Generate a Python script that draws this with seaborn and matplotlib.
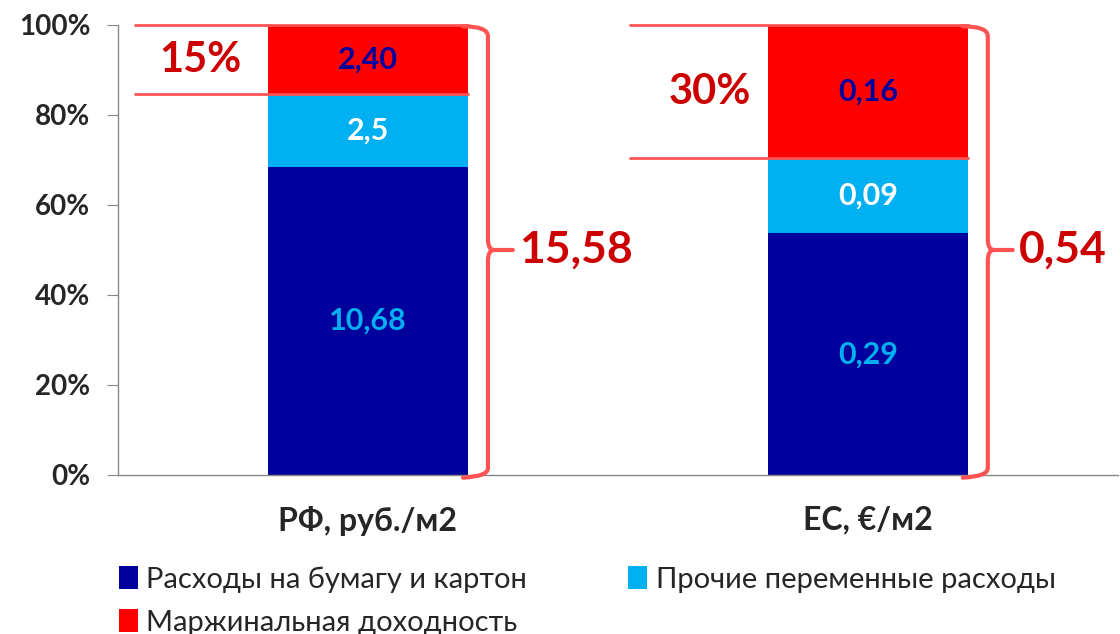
import numpy as np
import pandas as pd
import seaborn as sns
import matplotlib.pyplot as plt
from matplotlib.path import Path
from matplotlib.patches import PathPatch

# data
categories = ["РФ, руб./м2", "ЕС, €/м2"]
series = ["Расходы на бумагу и картон", "Прочие переменные расходы", "Маржинальная доходность"]
paper = [10.68, 0.29]
other = [2.5, 0.09]
margin = [2.40, 0.16]
paper_lbl = ["10,68", "0,29"]
other_lbl = ["2,5", "0,09"]
margin_lbl = ["2,40", "0,16"]
total_lbl = ["15,58", "0,54"]

colors = ["#00009C", "#00B0F0", "#FF0000"]
txt_colors = ["#00B0F0", "#FFFFFF", "#00009C"]
red_txt = "#CC0000"
brace_c = "#FF5353"

df = pd.DataFrame({"cat": categories, "paper": paper, "other": other, "margin": margin})
df["total"] = df[["paper", "other", "margin"]].sum(axis=1)
df["s1"] = df["paper"] / df["total"]
df["s2"] = (df["paper"] + df["other"]) / df["total"]
df["s3"] = 1.0

sns.set_style("white")
plt.rcParams["font.family"] = ["Lato", "DejaVu Sans"]

fig = plt.figure(figsize=(11.2, 6.34), dpi=100)
ax = fig.add_axes([0.1054, 0.2508, 0.8926, 0.7098])

for col, c, name in zip(["s3", "s2", "s1"], colors[::-1], series[::-1]):
    sns.barplot(data=df, x="cat", y=col, color=c, width=0.4, saturation=1,
                ax=ax, label=name, linewidth=0)

ax.set_ylim(0, 1)
ax.set_xlim(-0.5, 1.5)
ax.set_xlabel("")
ax.set_ylabel("")
ax.set_yticks(np.arange(0, 1.01, 0.2))
ax.set_yticklabels([f"{int(round(v*100))}%" for v in np.arange(0, 1.01, 0.2)],
                   fontsize=20, fontweight="bold")
ax.set_xticks([-0.5, 0.5, 1.5], minor=True)
ax.tick_params(axis="x", which="major", length=0, pad=22, labelsize=23)
ax.tick_params(axis="x", which="minor", length=6, color="#868686")
ax.tick_params(axis="y", length=8, color="#868686", left=True, pad=12)
for lbl in ax.get_xticklabels():
    lbl.set_fontweight("bold")
for s in ["top", "right"]:
    ax.spines[s].set_visible(False)
for s in ["left", "bottom"]:
    ax.spines[s].set_color("#868686")
    ax.spines[s].set_linewidth(1)

# labels inside bars
for i in range(len(categories)):
    s1, s2 = df["s1"][i], df["s2"][i]
    ax.text(i, s1 / 2, paper_lbl[i], ha="center", va="center", color=txt_colors[0],
            fontsize=22, fontweight="bold")
    ax.text(i, (s1 + s2) / 2, other_lbl[i], ha="center", va="center", color=txt_colors[1],
            fontsize=22, fontweight="bold")
    ax.text(i, (s2 + 1) / 2, margin_lbl[i], ha="center", va="center", color=txt_colors[2],
            fontsize=22, fontweight="bold")

# margin share markers
line_start = [-0.466, 0.524]
pct_x = [-0.336, 0.684]
for i in range(len(categories)):
    s2 = df["s2"][i]
    ax.plot([line_start[i], i + 0.2], [1, 1], color=brace_c, lw=2, clip_on=False, zorder=5)
    ax.plot([line_start[i], i + 0.2], [s2, s2], color=brace_c, lw=2, clip_on=False, zorder=5)
    share = df["margin"][i] / df["total"][i] * 100
    ax.text(pct_x[i], (1 + s2) / 2, f"{share:.0f}%", ha="center", va="center",
            color=red_txt, fontsize=30, fontweight="bold")

# braces + totals
for i in range(len(categories)):
    x0 = i + 0.2
    xb = i + 0.24
    tip = i + 0.29
    verts = [(x0 - 0.01, 0.997), (xb, 0.997), (xb, 0.975),
             (xb, 0.525), (xb, 0.5), (xb + 0.012, 0.5),
             (tip, 0.5),
             (xb + 0.012, 0.5), (xb, 0.5), (xb, 0.475),
             (xb, 0.015), (xb, -0.003), (x0 - 0.01, -0.006)]
    codes = [Path.MOVETO, Path.CURVE3, Path.CURVE3,
             Path.LINETO, Path.CURVE3, Path.CURVE3,
             Path.LINETO,
             Path.MOVETO, Path.CURVE3, Path.CURVE3,
             Path.LINETO, Path.CURVE3, Path.CURVE3]
    ax.add_patch(PathPatch(Path(verts, codes), fill=False, edgecolor=brace_c, lw=3,
                           clip_on=False, zorder=5, capstyle="round"))
    ax.text(tip + 0.012, 0.5, total_lbl[i], ha="left", va="center", color=red_txt,
            fontsize=32, fontweight="bold")

# legend: fill column-major so row 1 = paper, other; row 2 = margin
handles, labels = ax.get_legend_handles_labels()
order = [labels.index(series[0]), labels.index(series[2]), labels.index(series[1])]
fig.legend([handles[k] for k in order], [labels[k] for k in order],
           loc="upper left", bbox_to_anchor=(0.106, 0.107), ncol=2, frameon=False,
           borderpad=0, borderaxespad=0,
           fontsize=21, handlelength=0.65, handleheight=0.85, handletextpad=0.3,
           columnspacing=3.45, labelspacing=0.55)
if ax.legend_:
    ax.legend_.remove()

fig.savefig("out.png", dpi=100)
